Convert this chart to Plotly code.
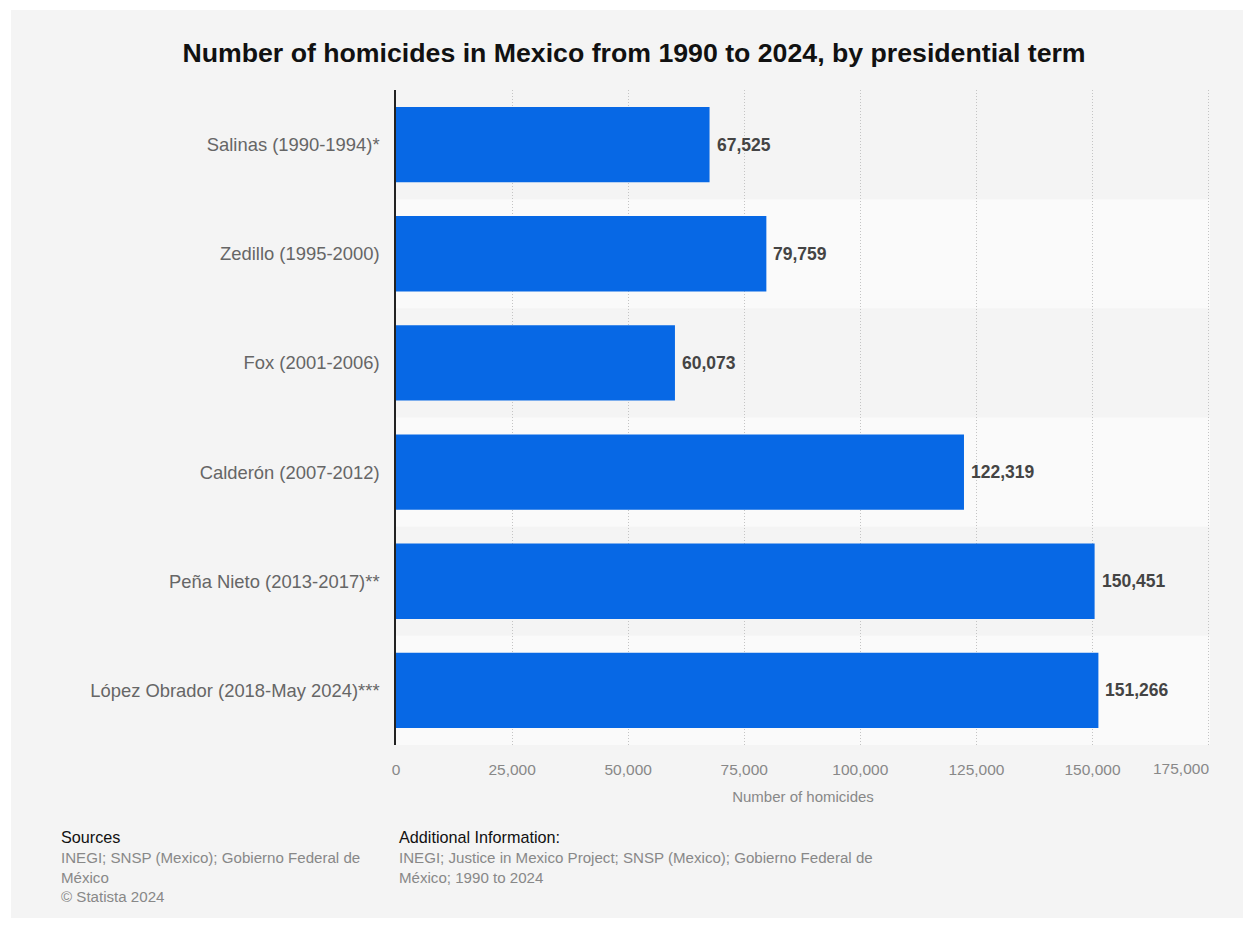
import plotly.graph_objects as go

categories = [
    "Salinas (1990-1994)*",
    "Zedillo (1995-2000)",
    "Fox (2001-2006)",
    "Calderón (2007-2012)",
    "Peña Nieto (2013-2017)**",
    "López Obrador (2018-May 2024)***",
]
homicides = [67525, 79759, 60073, 122319, 150451, 151266]
x_ticks = [0, 25000, 50000, 75000, 100000, 125000, 150000, 175000]

title_text = "Number of homicides in Mexico from 1990 to 2024, by presidential term"
x_title = "Number of homicides"
sources_head = "Sources"
sources_body = "INEGI; SNSP (Mexico); Gobierno Federal de<br>México<br>© Statista 2024"
addinfo_head = "Additional Information:"
addinfo_body = "INEGI; Justice in Mexico Project; SNSP (Mexico); Gobierno Federal de<br>México; 1990 to 2024"

FONT = "Liberation Sans, Arial, sans-serif"
W, H = 1254, 929
L, R, T, B = 396, 44, 90, 184
pw, ph = W - L - R, H - T - B

def px(x):
    return (x - L) / pw

def py(y):
    return (H - B - y) / ph

fig = go.Figure()
fig.add_trace(go.Bar(
    x=homicides, y=categories, orientation="h",
    marker=dict(color="#0768e5", line=dict(width=0)),
    width=0.69, hoverinfo="skip",
))

shapes = [dict(type="rect", xref="paper", yref="paper",
               x0=px(11), x1=px(1243), y0=py(918), y1=py(10),
               fillcolor="#f4f4f4", line=dict(width=0), layer="below")]
for i, c in enumerate(categories):
    if i % 2 == 1:
        shapes.append(dict(type="rect", xref="paper", yref="y",
                           x0=0, x1=1, y0=i - 0.5, y1=i + 0.5,
                           fillcolor="#fafafa", line=dict(width=0), layer="below"))

annotations = []
for c, v in zip(categories, homicides):
    annotations.append(dict(x=v, y=c, xref="x", yref="y", text=f"{v:,}",
                            showarrow=False, xanchor="left", xshift=5,
                            font=dict(family=FONT, size=17.5, color="#444444", weight="bold")))

# last tick label is kept inside the chart (right-aligned to its gridline)
tick_text = [f"{t:,}" for t in x_ticks[:-1]] + [""]
annotations.append(dict(x=x_ticks[-1], y=py(768), xref="x", yref="paper", text=f"{x_ticks[-1]:,}",
                        showarrow=False, xanchor="right", yanchor="middle", xshift=2,
                        font=dict(family=FONT, size=15.5, color="#888888")))

annotations += [
    dict(x=px(59), y=py(826), xref="paper", yref="paper", xanchor="left", yanchor="top",
         text=sources_head, showarrow=False, align="left",
         font=dict(family=FONT, size=16.2, color="#111111")),
    dict(x=px(59), y=py(847), xref="paper", yref="paper", xanchor="left", yanchor="top",
         text=sources_body, showarrow=False, align="left",
         font=dict(family=FONT, size=15.1, color="#888888")),
    dict(x=px(397), y=py(826), xref="paper", yref="paper", xanchor="left", yanchor="top",
         text=addinfo_head, showarrow=False, align="left",
         font=dict(family=FONT, size=16.2, color="#111111")),
    dict(x=px(397), y=py(847), xref="paper", yref="paper", xanchor="left", yanchor="top",
         text=addinfo_body, showarrow=False, align="left",
         font=dict(family=FONT, size=15.1, color="#888888")),
]

fig.update_layout(
    width=W, height=H,
    margin=dict(l=L, r=R, t=T, b=B),
    paper_bgcolor="#ffffff",
    plot_bgcolor="rgba(0,0,0,0)",
    showlegend=False,
    title=dict(text=title_text, x=634 / W, xanchor="center", y=1 - 53 / H, yanchor="middle",
               font=dict(family=FONT, size=26.7, color="#111111", weight="bold")),
    shapes=shapes,
    annotations=annotations,
    bargap=0.31,
)
fig.update_xaxes(
    range=[0, 175300], tickvals=x_ticks, ticktext=tick_text,
    showgrid=True, gridcolor="#c4c4c4", griddash="1px,2px", gridwidth=1,
    zeroline=False, showline=False,
    ticks="outside", ticklen=10, tickcolor="rgba(0,0,0,0)",
    tickfont=dict(family=FONT, size=15.5, color="#888888"),
    title=dict(text=x_title, standoff=14, font=dict(family=FONT, size=15, color="#888888")),
)
fig.update_yaxes(
    autorange="reversed", showgrid=False, zeroline=False,
    showline=True, linecolor="#222222", linewidth=1.5,
    ticks="outside", ticklen=11, tickcolor="rgba(0,0,0,0)",
    tickfont=dict(family=FONT, size=18.4, color="#666666"),
)

fig.write_html("out.html", config={"displayModeBar": False},
               post_script="document.body.style.margin='0';document.body.style.padding='0';")
